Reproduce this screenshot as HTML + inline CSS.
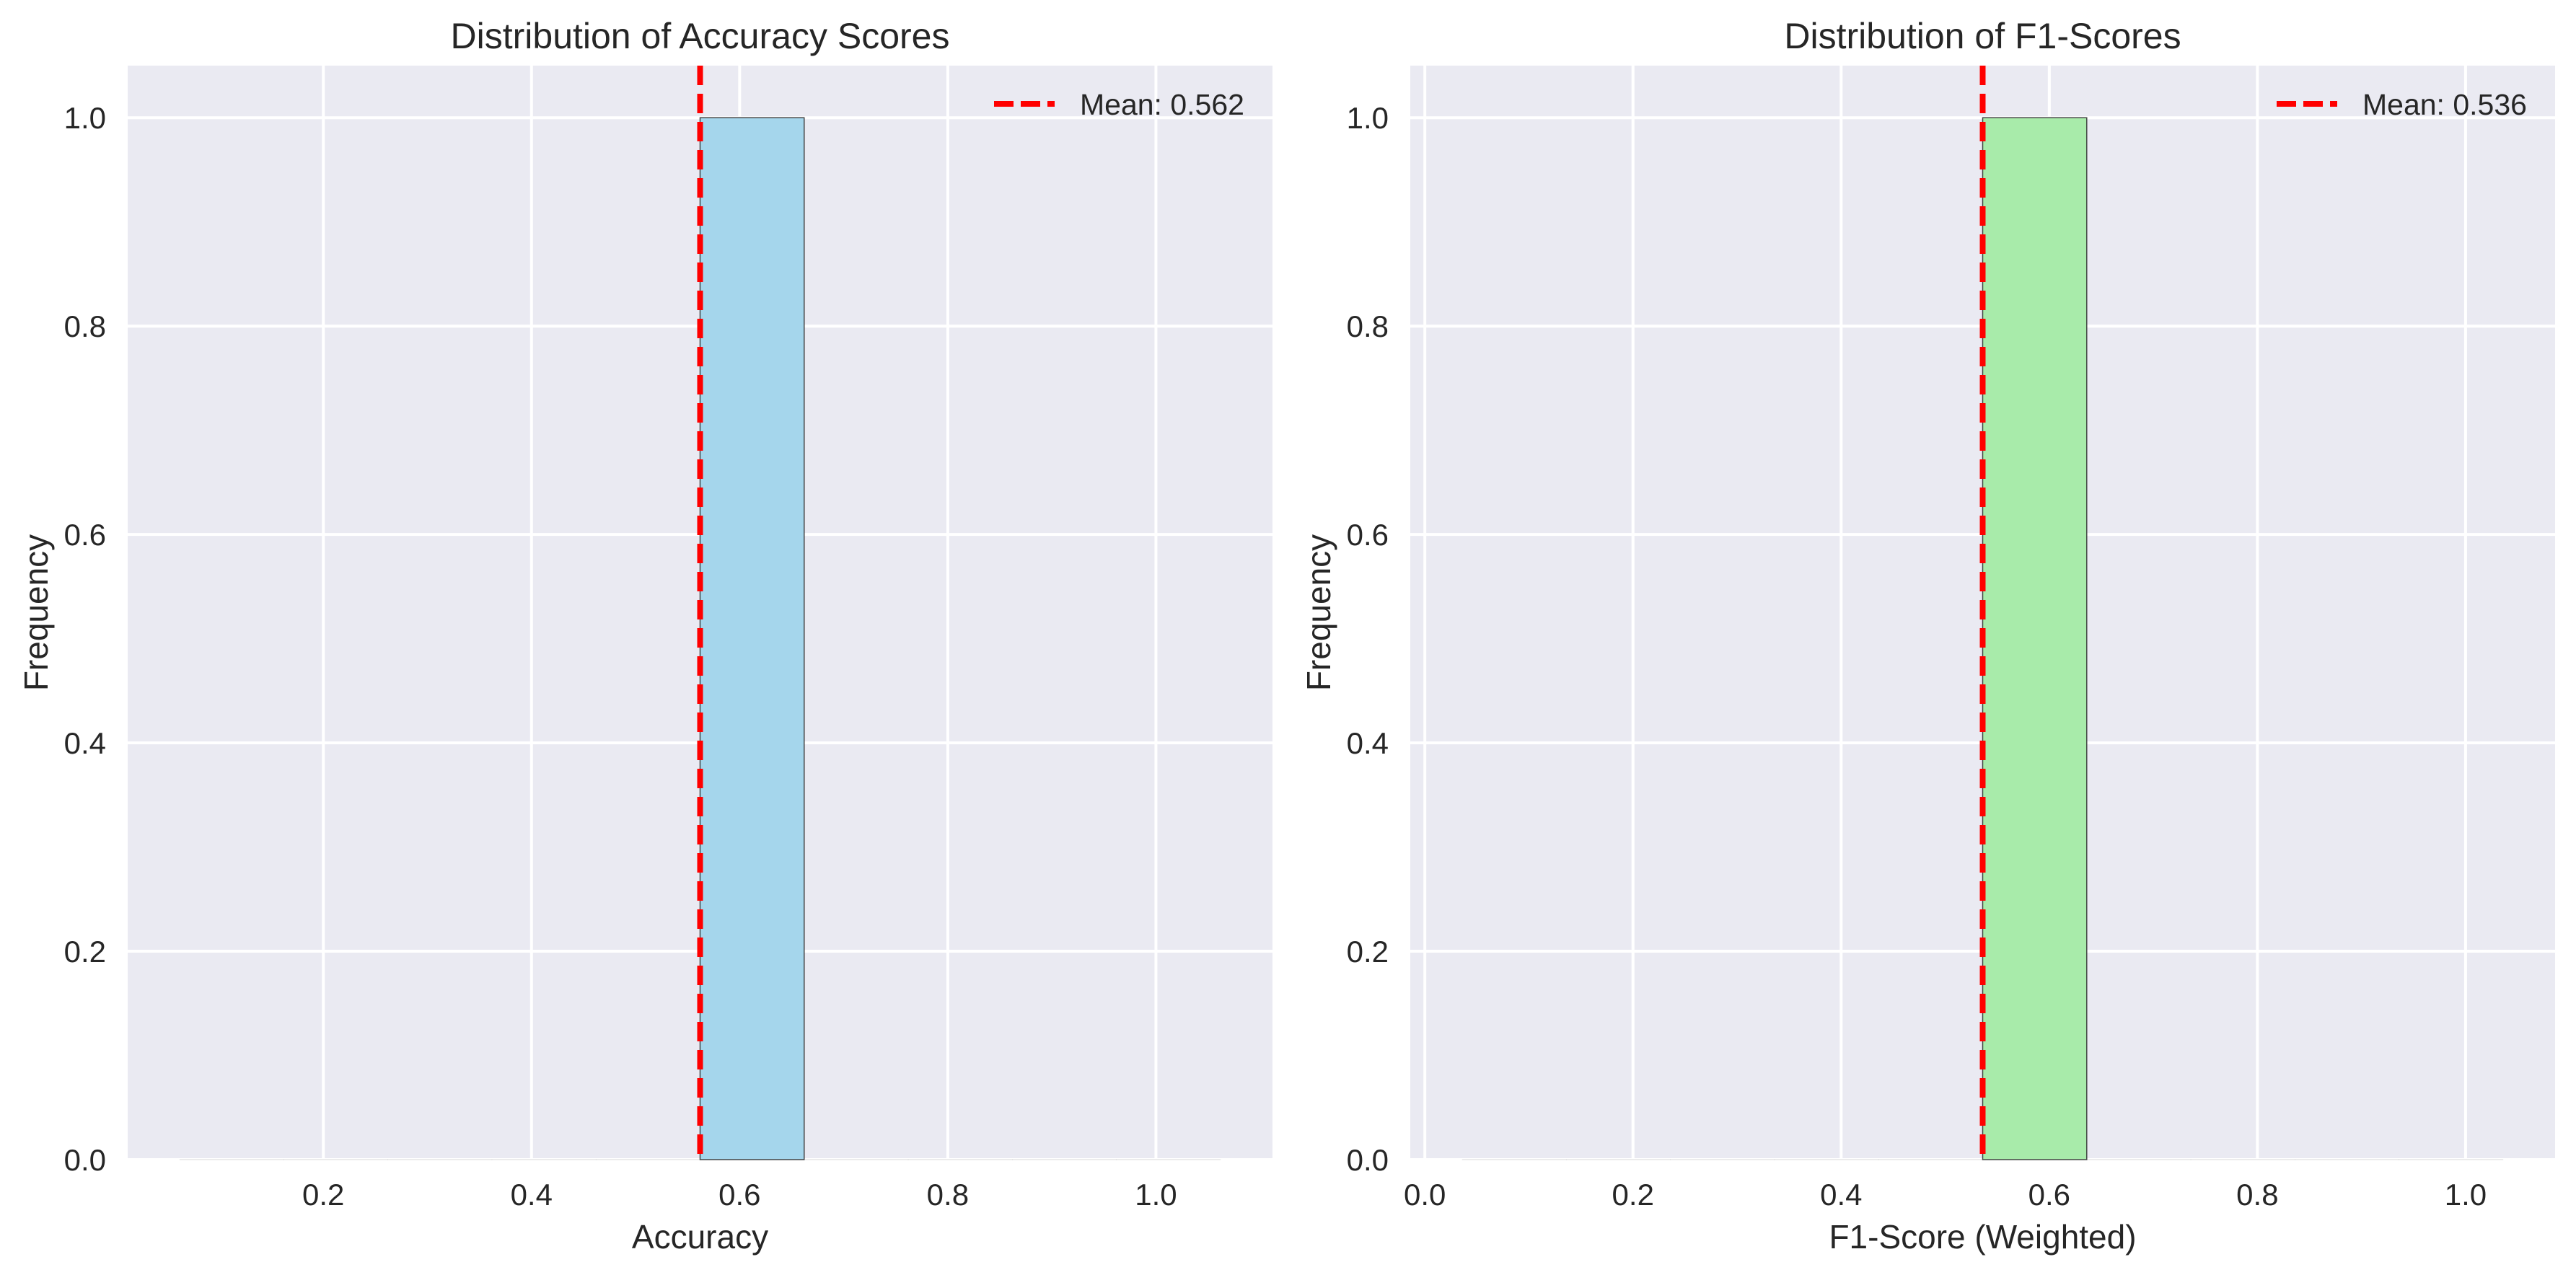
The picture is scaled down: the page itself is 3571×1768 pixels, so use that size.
<!DOCTYPE html>
<html><head><meta charset="utf-8"><style>
html,body{margin:0;padding:0;background:#fff;}
svg{display:block;font-family:"Liberation Sans","DejaVu Sans",sans-serif;}
</style></head><body>
<svg id="fig" width="3571" height="1768" viewBox="0 0 3571 1768" xmlns="http://www.w3.org/2000/svg"></svg>
<script>
// Data
const panelTitles = ["Distribution of Accuracy Scores", "Distribution of F1-Scores"];
const xLabels = ["Accuracy", "F1-Score (Weighted)"];
const means = [0.562, 0.536];
const binCounts = [[0,0,0,0,0,1,0,0,0,0],[0,0,0,0,0,1,0,0,0,0]];
const binWidth = 0.1;
const xTicks = [[0.2,0.4,0.6,0.8,1.0],[0.0,0.2,0.4,0.6,0.8,1.0]];
const yTicks = [0.0,0.2,0.4,0.6,0.8,1.0];
const barColors = ["#a5d6ec","#a8ebaa"];

const NS = "http://www.w3.org/2000/svg";
const svg = document.getElementById('fig');
function mk(tag, attrs, parent, text){
  const e = document.createElementNS(NS, tag);
  for (const k in attrs) e.setAttribute(k, attrs[k]);
  if (text !== undefined) e.textContent = text;
  (parent||svg).appendChild(e);
  return e;
}
const axLefts = [177, 1955];
const axW = 1587, axTop = 91, axBot = 1608;
const yMax = 1.05;

for (let p = 0; p < 2; p++){
  const m = means[p];
  const lo = m - 0.5, hi = m + 0.5;
  const xmin = lo - 0.05*(hi-lo), xmax = hi + 0.05*(hi-lo);
  const L = axLefts[p];
  const X = v => L + (v - xmin)/(xmax - xmin)*axW;
  const Y = v => axBot - v/yMax*(axBot-axTop);
  const g = mk('g', {});
  
  
  const bg = mk('rect', {x:L, y:axTop, width:axW, height:axBot-axTop, fill:'#eaeaf2'}, g);
  
  
  xTicks[p].forEach(t => {
    const gl = mk('line', {x1:X(t), x2:X(t), y1:axTop, y2:axBot, stroke:'#fff', 'stroke-width':4}, g);
    
    
    const tl = mk('text', {x:X(t), y:1671, 'font-size':42, fill:'#262626', 'text-anchor':'middle'}, g, t.toFixed(1));
    
    
  });
  yTicks.forEach(t => {
    const gl = mk('line', {x1:L, x2:L+axW, y1:Y(t), y2:Y(t), stroke:'#fff', 'stroke-width':4}, g);
    
    
    const tl = mk('text', {x:L-30, y:Y(t)+15, 'font-size':42, fill:'#262626', 'text-anchor':'end'}, g, t.toFixed(1));
    
    
  });
  binCounts[p].forEach((c, i) => {
    const x0 = lo + i*binWidth;
    const r = mk('rect', {x:X(x0), y:Y(c), width:X(x0+binWidth)-X(x0), height:Math.max(Y(0)-Y(c),0.01), fill:barColors[p], stroke:'#333', 'stroke-width':c>0?1.5:0.6, 'stroke-opacity':c>0?0.9:0.3}, g);
    
    
  });
  const ml = mk('line', {x1:X(m), x2:X(m), y1:axTop, y2:axBot, stroke:'#ff0000', 'stroke-width':8, 'stroke-dasharray':'27 12'}, g);
  
  
  const lg = mk('g', {}, g);
  
  
  const off = L - 177;
  mk('line', {x1:1378+off, x2:1462+off, y1:144, y2:144, stroke:'#ff0000', 'stroke-width':8, 'stroke-dasharray':'27 10'}, lg);
  const lt = mk('text', {x:1497+off, y:159, 'font-size':41, fill:'#262626'}, lg, 'Mean: ' + m.toFixed(3));
  
  
  const tt = mk('text', {x:L+axW/2, y:67, 'font-size':50, fill:'#262626', 'text-anchor':'middle'}, g, panelTitles[p]);
  
  
  const xl = mk('text', {x:L+axW/2, y:1731, 'font-size':46, fill:'#262626', 'text-anchor':'middle'}, g, xLabels[p]);
  
  
  const yx = L - 111, yy = (axTop+axBot)/2;
  const yl = mk('text', {x:yx, y:yy, 'font-size':46, fill:'#262626', 'text-anchor':'middle', transform:`rotate(-90 ${yx} ${yy})`}, g, 'Frequency');
  
  
}
</script>
</body></html>
